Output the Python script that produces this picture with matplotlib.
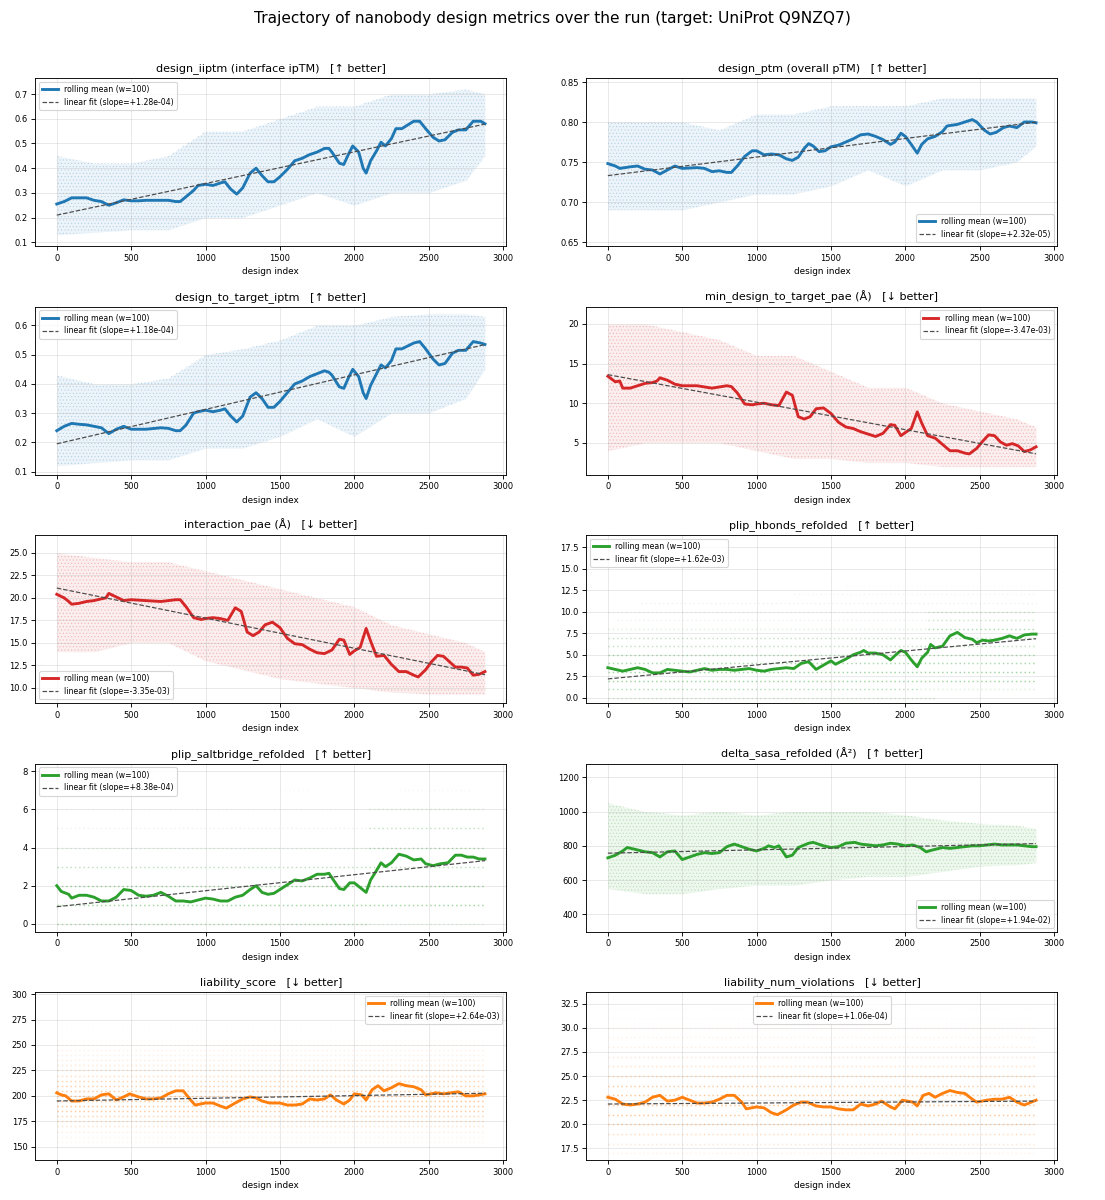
import numpy as np
import matplotlib.pyplot as plt

LAST_INDEX = 2879
WINDOW = 100
BAND_X = [0, 250, 500, 750, 1000, 1250, 1500, 1750, 2000, 2250, 2500, 2750, 2879]

# design_iiptm
iiptm_x = [0, 50, 100, 150, 200, 250, 300, 350, 400, 450, 500, 550, 600, 700, 750, 800, 830, 870, 920,
           950, 1000, 1050, 1100, 1130, 1170, 1210, 1250, 1300, 1340, 1380, 1420, 1460, 1500, 1550, 1600,
           1650, 1700, 1750, 1800, 1830, 1850, 1900, 1930, 1960, 1990, 2030, 2060, 2080, 2110, 2150, 2180,
           2210, 2250, 2280, 2320, 2360, 2400, 2440, 2480, 2530, 2570, 2610, 2660, 2700, 2750, 2800, 2850, 2879]
iiptm_roll = [0.255, 0.265, 0.28, 0.28, 0.28, 0.27, 0.265, 0.25, 0.26, 0.272, 0.268, 0.268, 0.27, 0.27, 0.27,
              0.265, 0.265, 0.285, 0.31, 0.33, 0.335, 0.33, 0.34, 0.345, 0.315, 0.295, 0.32, 0.38, 0.40, 0.37,
              0.345, 0.345, 0.365, 0.395, 0.43, 0.44, 0.455, 0.465, 0.48, 0.48, 0.465, 0.42, 0.415, 0.455, 0.49,
              0.465, 0.40, 0.38, 0.43, 0.47, 0.505, 0.49, 0.52, 0.56, 0.56, 0.575, 0.59, 0.59, 0.56, 0.525, 0.51,
              0.515, 0.545, 0.555, 0.555, 0.59, 0.59, 0.58]
iiptm_lo = [0.13, 0.14, 0.15, 0.15, 0.20, 0.20, 0.25, 0.30, 0.25, 0.30, 0.30, 0.35, 0.45]
iiptm_hi = [0.45, 0.42, 0.42, 0.45, 0.55, 0.55, 0.60, 0.65, 0.65, 0.70, 0.70, 0.72, 0.70]
iiptm_fit = (0.21, 1.28e-04)
iiptm_ticks = [0.1, 0.2, 0.3, 0.4, 0.5, 0.6, 0.7]

# design_ptm
ptm_x = [0, 50, 80, 150, 200, 250, 300, 350, 400, 450, 500, 600, 650, 700, 750, 800, 830, 870, 920, 970,
         1000, 1050, 1100, 1150, 1200, 1240, 1280, 1320, 1350, 1380, 1420, 1460, 1500, 1550, 1600, 1650,
         1700, 1750, 1800, 1850, 1900, 1930, 1970, 2000, 2040, 2080, 2110, 2150, 2200, 2250, 2280, 2350,
         2400, 2450, 2480, 2530, 2570, 2610, 2660, 2700, 2750, 2800, 2850, 2879]
ptm_roll = [0.748, 0.745, 0.742, 0.744, 0.745, 0.741, 0.740, 0.735, 0.740, 0.745, 0.742, 0.743, 0.742, 0.738,
            0.739, 0.737, 0.737, 0.745, 0.757, 0.764, 0.764, 0.759, 0.760, 0.759, 0.754, 0.752, 0.756, 0.767,
            0.773, 0.770, 0.763, 0.764, 0.769, 0.771, 0.775, 0.779, 0.784, 0.785, 0.782, 0.778, 0.772, 0.775,
            0.786, 0.782, 0.772, 0.761, 0.772, 0.779, 0.782, 0.788, 0.795, 0.797, 0.800, 0.803, 0.800, 0.790,
            0.785, 0.787, 0.793, 0.795, 0.793, 0.800, 0.800, 0.799]
ptm_lo = [0.69, 0.69, 0.69, 0.70, 0.71, 0.71, 0.72, 0.74, 0.72, 0.74, 0.74, 0.75, 0.77]
ptm_hi = [0.80, 0.80, 0.80, 0.79, 0.81, 0.81, 0.82, 0.82, 0.82, 0.83, 0.83, 0.83, 0.83]
ptm_fit = (0.733, 2.32e-05)
ptm_ticks = [0.65, 0.70, 0.75, 0.80, 0.85]

# design_to_target_iptm
d2t_x = iiptm_x
d2t_roll = [0.24, 0.255, 0.265, 0.262, 0.26, 0.255, 0.25, 0.23, 0.245, 0.255, 0.245, 0.245, 0.245, 0.25, 0.248,
            0.24, 0.24, 0.26, 0.30, 0.305, 0.31, 0.305, 0.31, 0.315, 0.29, 0.27, 0.29, 0.355, 0.37, 0.35,
            0.32, 0.32, 0.34, 0.37, 0.40, 0.41, 0.425, 0.435, 0.445, 0.44, 0.43, 0.39, 0.385, 0.42, 0.45,
            0.425, 0.37, 0.35, 0.395, 0.435, 0.465, 0.455, 0.48, 0.52, 0.52, 0.53, 0.54, 0.545, 0.52, 0.485,
            0.465, 0.47, 0.505, 0.515, 0.515, 0.545, 0.54, 0.535]
d2t_lo = [0.12, 0.13, 0.14, 0.14, 0.18, 0.18, 0.22, 0.28, 0.22, 0.30, 0.30, 0.35, 0.45]
d2t_hi = [0.43, 0.40, 0.40, 0.42, 0.50, 0.52, 0.55, 0.60, 0.60, 0.63, 0.64, 0.64, 0.63]
d2t_fit = (0.195, 1.18e-04)
d2t_ticks = [0.1, 0.2, 0.3, 0.4, 0.5, 0.6]

# min_design_to_target_pae
minpae_x = [0, 50, 80, 100, 150, 200, 250, 300, 330, 350, 400, 450, 500, 600, 700, 800, 830, 870, 920, 970,
            1000, 1050, 1100, 1150, 1200, 1240, 1280, 1320, 1360, 1400, 1450, 1500, 1550, 1600, 1650, 1700,
            1750, 1800, 1850, 1900, 1930, 1970, 2000, 2040, 2080, 2110, 2150, 2200, 2250, 2300, 2350, 2400,
            2430, 2480, 2520, 2560, 2600, 2640, 2680, 2720, 2760, 2800, 2840, 2879]
minpae_roll = [13.4, 12.7, 12.8, 11.9, 11.9, 12.2, 12.5, 12.6, 12.8, 13.2, 12.9, 12.4, 12.2, 12.2, 11.9, 12.2,
               12.1, 11.3, 9.9, 9.8, 9.9, 10.0, 9.8, 9.7, 11.4, 11.0, 8.3, 8.0, 8.3, 9.3, 9.4, 8.7, 7.6, 7.0,
               6.8, 6.4, 6.1, 5.8, 6.2, 7.3, 7.2, 5.9, 6.3, 6.8, 8.9, 7.5, 5.9, 5.6, 4.8, 4.0, 4.0, 3.7, 3.6,
               4.3, 5.2, 6.0, 5.9, 5.1, 4.7, 4.9, 4.6, 3.9, 4.1, 4.5]
minpae_lo = [4, 5, 5, 5, 4, 3, 3, 2.5, 2.5, 2, 2, 2, 2]
minpae_hi = [20, 20, 19, 18, 16, 16, 14, 12, 12, 10, 9, 8, 7]
minpae_fit = (13.6, -3.47e-03)
minpae_ticks = [5, 10, 15, 20]

# interaction_pae
ipae_x = minpae_x
ipae_roll = [20.4, 20.0, 19.6, 19.3, 19.4, 19.6, 19.7, 19.9, 20.0, 20.5, 20.1, 19.7, 19.8, 19.7, 19.6, 19.8,
             19.8, 19.0, 17.8, 17.6, 17.7, 17.8, 17.7, 17.5, 18.9, 18.5, 16.2, 15.8, 16.2, 17.0, 17.3, 16.7,
             15.5, 14.9, 14.8, 14.3, 13.9, 13.8, 14.2, 15.4, 15.3, 13.7, 14.1, 14.5, 16.6, 15.2, 13.5, 13.6,
             12.6, 11.8, 11.8, 11.4, 11.2, 12.0, 12.9, 13.6, 13.5, 12.9, 12.3, 12.3, 12.2, 11.4, 11.5, 11.8]
ipae_lo = [14, 14, 15, 15, 13, 12, 11, 10.5, 10, 9.5, 9.3, 9.3, 9.3]
ipae_hi = [25, 24.5, 24, 24, 23, 22, 21, 20, 19, 17, 16, 15, 14]
ipae_fit = (21.1, -3.35e-03)
ipae_ticks = [10.0, 12.5, 15.0, 17.5, 20.0, 22.5, 25.0]

# plip_hbonds_refolded
hb_x = [0, 50, 100, 150, 200, 250, 300, 350, 400, 450, 500, 550, 600, 650, 700, 750, 800, 850, 900, 950,
        1000, 1050, 1100, 1150, 1200, 1250, 1300, 1350, 1400, 1450, 1500, 1530, 1600, 1650, 1700, 1720,
        1750, 1800, 1850, 1900, 1930, 1970, 2000, 2040, 2080, 2110, 2150, 2170, 2200, 2250, 2300, 2350,
        2400, 2450, 2480, 2520, 2560, 2600, 2650, 2700, 2750, 2800, 2850, 2879]
hb_roll = [3.5, 3.3, 3.1, 3.3, 3.5, 3.3, 2.9, 2.9, 3.3, 3.2, 3.1, 3.0, 3.2, 3.4, 3.2, 3.3, 3.3, 3.2, 3.3,
           3.4, 3.2, 3.1, 3.3, 3.4, 3.5, 3.4, 4.0, 4.2, 3.3, 3.8, 4.3, 3.9, 4.5, 5.0, 5.3, 5.5, 5.2, 5.2,
           5.0, 4.4, 4.9, 5.5, 5.3, 4.4, 3.6, 4.6, 5.3, 6.2, 5.8, 6.0, 7.2, 7.6, 7.0, 6.8, 6.4, 6.7, 6.6,
           6.7, 6.9, 7.2, 6.9, 7.3, 7.4, 7.4]
hb_level = [0, 1, 1, 2, 3, 4, 5, 6, 7, 8, 8, 9, 9, 10, 10, 11, 12, 13]
hb_start = [0, 0, 2100, 0, 0, 0, 0, 0, 0, 0, 2150, 60, 2150, 0, 2150, 220, 1250, 1600]
hb_end = [2200, 2100, 2879, 2879, 2879, 2879, 2879, 2879, 2879, 2150, 2879, 2150, 2879, 2150, 2879, 2879, 2879, 2879]
hb_density = [0.45, 0.8, 0.35, 1.0, 1.0, 0.9, 0.85, 0.65, 0.65, 0.35, 0.85, 0.2, 0.55, 0.18, 0.55, 0.22, 0.14, 0.08]
hb_fit = (2.2, 1.62e-03)
hb_ticks = [0.0, 2.5, 5.0, 7.5, 10.0, 12.5, 15.0, 17.5]

# plip_saltbridge_refolded
sb_x = [0, 30, 80, 100, 150, 200, 250, 300, 350, 400, 450, 500, 550, 600, 650, 700, 750, 800, 850, 900,
        950, 1000, 1050, 1100, 1150, 1200, 1250, 1300, 1340, 1380, 1420, 1460, 1500, 1550, 1600, 1650,
        1700, 1750, 1800, 1830, 1860, 1900, 1930, 1970, 2000, 2040, 2080, 2110, 2150, 2180, 2210, 2250,
        2300, 2350, 2400, 2450, 2480, 2530, 2580, 2630, 2680, 2720, 2760, 2800, 2840, 2879]
sb_roll = [2.0, 1.7, 1.55, 1.35, 1.5, 1.5, 1.4, 1.2, 1.2, 1.4, 1.8, 1.75, 1.5, 1.45, 1.5, 1.65, 1.45, 1.2,
           1.2, 1.15, 1.25, 1.35, 1.3, 1.2, 1.2, 1.4, 1.5, 1.8, 2.0, 1.65, 1.55, 1.6, 1.8, 2.05, 2.3, 2.25,
           2.4, 2.6, 2.6, 2.65, 2.3, 1.85, 1.8, 2.15, 2.15, 1.9, 1.65, 2.3, 2.8, 3.2, 3.0, 3.2, 3.65, 3.55,
           3.35, 3.4, 3.15, 3.05, 3.15, 3.2, 3.6, 3.6, 3.5, 3.5, 3.4, 3.4]
sb_level = [0, 0, 1, 2, 3, 4, 4, 5, 5, 6, 6, 7, 7]
sb_start = [0, 2100, 0, 0, 0, 0, 2100, 0, 2100, 0, 2100, 1500, 2300]
sb_end = [2100, 2879, 2879, 2879, 2879, 2100, 2879, 2100, 2879, 2100, 2879, 1700, 2800]
sb_density = [0.8, 0.3, 1.0, 1.0, 0.7, 0.35, 0.85, 0.2, 0.65, 0.1, 0.4, 0.1, 0.12]
sb_fit = (0.9, 8.38e-04)
sb_ticks = [0, 2, 4, 6, 8]

# delta_sasa_refolded
sasa_x = [0, 50, 100, 130, 180, 250, 300, 350, 400, 450, 500, 550, 600, 650, 700, 750, 800, 850, 900, 950,
          1000, 1050, 1080, 1120, 1150, 1200, 1240, 1280, 1350, 1380, 1450, 1500, 1550, 1600, 1660, 1700,
          1750, 1800, 1850, 1900, 1950, 2000, 2050, 2100, 2140, 2180, 2250, 2300, 2350, 2400, 2450, 2500,
          2550, 2600, 2650, 2700, 2750, 2800, 2850, 2879]
sasa_roll = [730, 745, 770, 790, 780, 765, 760, 735, 765, 770, 720, 735, 750, 760, 755, 760, 795, 810, 795,
             780, 770, 785, 800, 790, 800, 735, 745, 790, 815, 820, 800, 790, 795, 815, 820, 810, 805, 800,
             805, 815, 810, 800, 805, 790, 765, 775, 790, 785, 790, 795, 800, 800, 805, 810, 805, 805, 805,
             800, 795, 795]
sasa_lo = [550, 520, 520, 550, 570, 570, 600, 620, 620, 650, 680, 690, 700]
sasa_hi = [1050, 1000, 980, 1000, 980, 1000, 1000, 1000, 980, 950, 930, 920, 900]
sasa_fit = (757, 1.94e-02)
sasa_ticks = [400, 600, 800, 1000, 1200]

# liability_score
lscore_x = [0, 30, 60, 100, 150, 200, 250, 300, 350, 400, 450, 490, 550, 600, 650, 700, 750, 800, 850, 900,
            930, 1000, 1050, 1100, 1140, 1200, 1250, 1300, 1340, 1380, 1430, 1500, 1550, 1600, 1650, 1700,
            1750, 1800, 1840, 1880, 1930, 1970, 2000, 2050, 2080, 2120, 2160, 2200, 2250, 2300, 2350, 2400,
            2450, 2480, 2550, 2600, 2650, 2700, 2750, 2800, 2879]
lscore_roll = [203, 201, 200, 195, 195, 197, 197, 201, 202, 196, 199, 202, 199, 197, 197, 198, 202, 205, 205,
               196, 191, 193, 193, 190, 188, 193, 197, 199, 198, 195, 193, 193, 191, 191, 192, 197, 196, 197,
               201, 196, 192, 196, 202, 201, 196, 206, 210, 205, 208, 212, 210, 209, 206, 201, 203, 202, 203,
               204, 200, 200, 202]
lscore_level = [145, 150, 155, 160, 165, 170, 175, 180, 185, 190, 195, 200, 205, 210, 215, 220, 225, 230,
                235, 240, 245, 250, 255, 260, 265, 270, 275, 280, 285, 290]
lscore_density = [0.03, 0.08, 0.12, 0.2, 0.3, 0.45, 0.6, 0.75, 0.9, 1.0, 1.0, 1.0, 0.95, 0.85, 0.7, 0.6,
                  0.5, 0.4, 0.3, 0.25, 0.18, 0.12, 0.08, 0.06, 0.04, 0.03, 0.02, 0.02, 0.01, 0.01]
lscore_fit = (195, 2.64e-03)
lscore_ticks = [150, 175, 200, 225, 250, 275, 300]

# liability_num_violations
viol_x = [0, 50, 100, 150, 200, 250, 300, 350, 400, 450, 500, 550, 600, 650, 700, 750, 800, 850, 900, 930,
          1000, 1050, 1100, 1140, 1200, 1250, 1300, 1340, 1400, 1450, 1500, 1550, 1600, 1650, 1700, 1750,
          1800, 1840, 1900, 1930, 1980, 2050, 2080, 2120, 2160, 2200, 2250, 2300, 2350, 2400, 2450, 2480,
          2550, 2600, 2650, 2700, 2750, 2800, 2879]
viol_roll = [22.8, 22.6, 22.1, 22.0, 22.1, 22.3, 22.8, 23.0, 22.4, 22.5, 22.8, 22.5, 22.2, 22.2, 22.3, 22.6,
             23.0, 23.0, 22.3, 21.6, 21.8, 21.7, 21.2, 21.0, 21.5, 22.0, 22.3, 22.3, 21.9, 21.8, 21.8, 21.6,
             21.5, 21.5, 22.1, 21.9, 22.1, 22.4, 21.8, 21.6, 22.5, 22.3, 21.9, 23.0, 23.2, 22.8, 23.2, 23.5,
             23.3, 23.2, 22.6, 22.3, 22.5, 22.6, 22.6, 22.8, 22.3, 22.0, 22.5]
viol_level = [17, 18, 19, 20, 21, 22, 23, 24, 25, 26, 27, 28, 29, 30, 31, 32, 33]
viol_density = [0.2, 0.4, 0.6, 0.9, 1.0, 1.0, 1.0, 0.9, 0.7, 0.5, 0.4, 0.3, 0.2, 0.15, 0.1, 0.05, 0.03]
viol_fit = (22.1, 1.06e-04)
viol_ticks = [17.5, 20.0, 22.5, 25.0, 27.5, 30.0, 32.5]


def draw_band(ax, lo, hi, color):
    # the raw per-design points, shown as a speckled envelope
    ax.fill_between(BAND_X, lo, hi, color=color, alpha=0.08, lw=0)
    ax.fill_between(BAND_X, lo, hi, facecolor="none", edgecolor=color, hatch="....", lw=0, alpha=0.22)


def draw_rows(ax, levels, starts, ends, density, color):
    # integer-valued metrics: points stack up in rows
    for lev, s, e, d in zip(levels, starts, ends, density):
        ax.hlines(lev, s, e, colors=color, linestyles=(0, (1, 2)), lw=1.3, alpha=0.45 * d)


def main():
    plt.rcParams["hatch.linewidth"] = 0.6
    fig, axes = plt.subplots(5, 2, figsize=(1105 / 80, 1200 / 80), dpi=80)
    fig.subplots_adjust(left=0.032, right=0.957, top=0.935, bottom=0.0333, hspace=0.36, wspace=0.17)
    fig.suptitle("Trajectory of nanobody design metrics over the run (target: UniProt Q9NZQ7)",
                 fontsize=13.8, y=0.991)

    blue, red, green, orange = "tab:blue", "tab:red", "tab:green", "tab:orange"
    x_all = np.array([0, LAST_INDEX])

    panels = [
        ("design_iiptm (interface ipTM)   [↑ better]", blue, iiptm_x, iiptm_roll, iiptm_fit,
         ("band", iiptm_lo, iiptm_hi), "upper left", (0.085, 0.765), iiptm_ticks),
        ("design_ptm (overall pTM)   [↑ better]", blue, ptm_x, ptm_roll, ptm_fit,
         ("band", ptm_lo, ptm_hi), "lower right", (0.645, 0.855), ptm_ticks),
        ("design_to_target_iptm   [↑ better]", blue, d2t_x, d2t_roll, d2t_fit,
         ("band", d2t_lo, d2t_hi), "upper left", (0.09, 0.665), d2t_ticks),
        ("min_design_to_target_pae (Å)   [↓ better]", red, minpae_x, minpae_roll, minpae_fit,
         ("band", minpae_lo, minpae_hi), "upper right", (1.0, 22.2), minpae_ticks),
        ("interaction_pae (Å)   [↓ better]", red, ipae_x, ipae_roll, ipae_fit,
         ("band", ipae_lo, ipae_hi), "lower left", (8.3, 27.0), ipae_ticks),
        ("plip_hbonds_refolded   [↑ better]", green, hb_x, hb_roll, hb_fit,
         ("rows", hb_level, hb_start, hb_end, hb_density), "upper left", (-0.6, 18.9), hb_ticks),
        ("plip_saltbridge_refolded   [↑ better]", green, sb_x, sb_roll, sb_fit,
         ("rows", sb_level, sb_start, sb_end, sb_density), "upper left", (-0.4, 8.4), sb_ticks),
        ("delta_sasa_refolded (Å²)   [↑ better]", green, sasa_x, sasa_roll, sasa_fit,
         ("band", sasa_lo, sasa_hi), "lower right", (300, 1280), sasa_ticks),
        ("liability_score   [↓ better]", orange, lscore_x, lscore_roll, lscore_fit,
         ("rows", lscore_level, [0] * len(lscore_level), [LAST_INDEX] * len(lscore_level), lscore_density),
         "upper right", (137, 302), lscore_ticks),
        ("liability_num_violations   [↓ better]", orange, viol_x, viol_roll, viol_fit,
         ("rows", viol_level, [0] * len(viol_level), [LAST_INDEX] * len(viol_level), viol_density),
         "upper center", (16.3, 33.7), viol_ticks),
    ]

    for ax, (title, color, xs, roll, fit, cloud, loc, ylim, yticks) in zip(axes.flat, panels):
        if cloud[0] == "band":
            draw_band(ax, cloud[1], cloud[2], color)
        else:
            draw_rows(ax, cloud[1], cloud[2], cloud[3], cloud[4], color)
        ax.plot(xs, roll, color=color, lw=2.6, label=f"rolling mean (w={WINDOW})", zorder=3)
        b0, slope = fit
        ax.plot(x_all, b0 + slope * x_all, color="0.3", ls="--", lw=1.1,
                label=f"linear fit (slope={slope:+.2e})", zorder=4)
        ax.set_title(title, fontsize=10)
        ax.set_xlabel("design index", fontsize=8)
        ax.tick_params(labelsize=7.5)
        ax.set_xlim(-144, 3023)
        ax.set_yticks(yticks)
        ax.set_ylim(*ylim)
        ax.grid(True, alpha=0.3)
        ax.legend(loc=loc, fontsize=7)

    fig.savefig("out.png", dpi=80)


if __name__ == "__main__":
    main()
